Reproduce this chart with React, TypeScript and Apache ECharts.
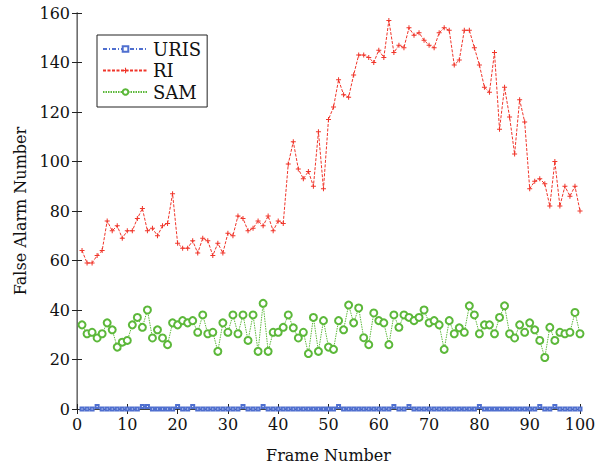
import React, { useEffect, useRef } from "react";
import * as echarts from "echarts";

const frames = [
  1, 2, 3, 4, 5, 6, 7, 8, 9, 10, 11, 12, 13, 14, 15, 16, 17, 18, 19, 20,
  21, 22, 23, 24, 25, 26, 27, 28, 29, 30, 31, 32, 33, 34, 35, 36, 37, 38, 39, 40,
  41, 42, 43, 44, 45, 46, 47, 48, 49, 50, 51, 52, 53, 54, 55, 56, 57, 58, 59, 60,
  61, 62, 63, 64, 65, 66, 67, 68, 69, 70, 71, 72, 73, 74, 75, 76, 77, 78, 79, 80,
  81, 82, 83, 84, 85, 86, 87, 88, 89, 90, 91, 92, 93, 94, 95, 96, 97, 98, 99, 100,
];

const urisValues = [
  0, 0, 0, 1, 0, 0, 0, 0, 0, 0, 0, 0, 1, 1, 0, 0, 0, 0, 0, 1,
  0, 0, 1, 0, 0, 0, 0, 0, 0, 0, 0, 0, 1, 0, 0, 0, 1, 0, 0, 0,
  0, 0, 0, 0, 0, 0, 0, 0, 0, 0, 0, 1, 0, 0, 0, 0, 0, 0, 0, 0,
  0, 0, 1, 0, 0, 1, 0, 0, 0, 0, 0, 0, 0, 0, 0, 0, 0, 0, 0, 1,
  0, 0, 0, 0, 0, 0, 0, 0, 0, 0, 0, 1, 0, 0, 1, 0, 0, 0, 0, 0,
];

const riValues = [
  64, 59, 59, 62, 64, 76, 72, 74, 69, 72, 72, 77, 81, 72, 73, 70, 74, 75, 87, 67,
  65, 65, 68, 63, 69, 68, 62, 67, 63, 71, 70, 78, 77, 72, 73, 76, 74, 78, 72, 76,
  75, 99, 108, 97, 93, 96, 90, 112, 89, 117, 122, 133, 127, 126, 135, 143, 143, 142, 140, 145,
  142, 157, 144, 147, 146, 154, 151, 152, 149, 147, 146, 152, 154, 153, 139, 141, 153, 153, 146, 139,
  130, 128, 144, 113, 130, 118, 103, 125, 116, 89, 92, 93, 91, 82, 100, 82, 90, 86, 90, 80,
];

const samValues = [
  34, 30.4, 31, 28.7, 30.4, 34.8, 32, 25, 27, 27.7, 34, 37, 33, 40, 28.7, 32, 28.7, 26, 34.8, 34,
  35.7, 34.8, 35.7, 31, 38, 30.4, 31, 23.3, 34.8, 31, 38, 30.4, 38, 27.7, 38, 23.3, 42.7, 23.3, 31, 31,
  33, 38, 32.8, 28.7, 31, 22.4, 37, 23.3, 35.7, 25, 24.1, 35.7, 32, 42, 34.8, 40.8, 28.8, 26, 38.8, 35.7,
  34.8, 26, 38, 33, 38, 37, 35.7, 37, 40, 34.8, 35.7, 34, 24.1, 35.7, 30.4, 32.8, 31, 41.7, 38, 30.4,
  34, 34, 30.4, 37, 41.7, 30.4, 28.7, 34, 31, 34.8, 32, 27.7, 20.8, 33, 27.7, 31, 30.4, 31, 39, 30.4,
];

const xTicks = { min: 0, max: 100, interval: 10 };
const yTicks = { min: 0, max: 160, interval: 20 };

const FONT = "DejaVu Serif";
const PLUS = "path://M4,0h2v4h4v2h-4v4h-2v-4h-4v-2h4z";

export default function App() {
  const ref = useRef<HTMLDivElement>(null);

  useEffect(() => {
    if (!ref.current) return;
    const chart = echarts.init(ref.current, null, { renderer: "svg" });
    const pair = (vals: number[]) => frames.map((f, i) => [f, vals[i]]);

    const baseAxisCommon = {
      axisTick: { inside: true, length: 5, lineStyle: { color: "#222" } },
      splitLine: { show: false },
    };

    chart.setOption({
      animation: false,
      backgroundColor: "#ffffff",
      textStyle: { fontFamily: FONT },
      grid: { left: 77, right: 27, top: 13, bottom: 61, containLabel: false },
      legend: {
        orient: "vertical",
        left: 97,
        top: 35,
        padding: [4, 6, 5, 5],
        itemWidth: 45,
        itemHeight: 7,
        itemGap: 1.5,
        borderColor: "#222",
        borderWidth: 1,
        backgroundColor: "#fff",
        textStyle: { fontFamily: FONT, fontSize: 18, color: "#111", lineHeight: 20 },
        data: ["URIS", "RI", "SAM"],
      },
      xAxis: [
        {
          type: "value",
          ...xTicks,
          position: "bottom",
          name: "Frame Number",
          nameLocation: "middle",
          nameGap: 38,
          nameTextStyle: { fontFamily: FONT, fontSize: 16, color: "#111" },
          axisLine: { show: true, lineStyle: { color: "#222", width: 1 } },
          axisLabel: { fontFamily: FONT, fontSize: 16, color: "#111", margin: 7 },
          ...baseAxisCommon,
        },
        {
          type: "value",
          ...xTicks,
          position: "top",
          axisLine: { show: true, lineStyle: { color: "#444", width: 1 } },
          axisLabel: { show: false },
          ...baseAxisCommon,
        },
      ],
      yAxis: [
        {
          type: "value",
          ...yTicks,
          position: "left",
          name: "False Alarm Number",
          nameLocation: "middle",
          nameGap: 47,
          nameTextStyle: { fontFamily: FONT, fontSize: 16, color: "#111" },
          axisLine: { show: true, lineStyle: { color: "#222", width: 1 } },
          axisLabel: { fontFamily: FONT, fontSize: 16, color: "#111", margin: 7 },
          ...baseAxisCommon,
        },
        {
          type: "value",
          ...yTicks,
          position: "right",
          axisLine: { show: true, lineStyle: { color: "#888", width: 1.5 } },
          axisLabel: { show: false },
          ...baseAxisCommon,
        },
      ],
      series: [
        {
          name: "URIS",
          type: "line",
          data: pair(urisValues),
          symbol: "emptyRect",
          symbolSize: 3,
          color: "#4f6fcf",
          itemStyle: { color: "#4f6fcf", borderWidth: 1 },
          lineStyle: { color: "#4f6fcf", width: 1, type: [4, 2, 1, 2] },
          z: 3,
        },
        {
          name: "RI",
          type: "line",
          data: pair(riValues),
          symbol: PLUS,
          symbolSize: 5,
          color: "#f0352a",
          itemStyle: { color: "#f0352a" },
          lineStyle: { color: "#f0352a", width: 1, type: [3, 1.5] },
        },
        {
          name: "SAM",
          type: "line",
          data: pair(samValues),
          symbol: "emptyCircle",
          symbolSize: 7,
          color: "#5cb83a",
          itemStyle: { color: "#5cb83a", borderWidth: 1.2 },
          lineStyle: { color: "#5cb83a", width: 1, type: [1.5, 1] },
        },
      ],
    });

    return () => chart.dispose();
  }, []);

  return (
    <div
      ref={ref}
      style={{ position: "fixed", left: 0, top: 0, width: 607, height: 470, background: "#fff" }}
    />
  );
}
